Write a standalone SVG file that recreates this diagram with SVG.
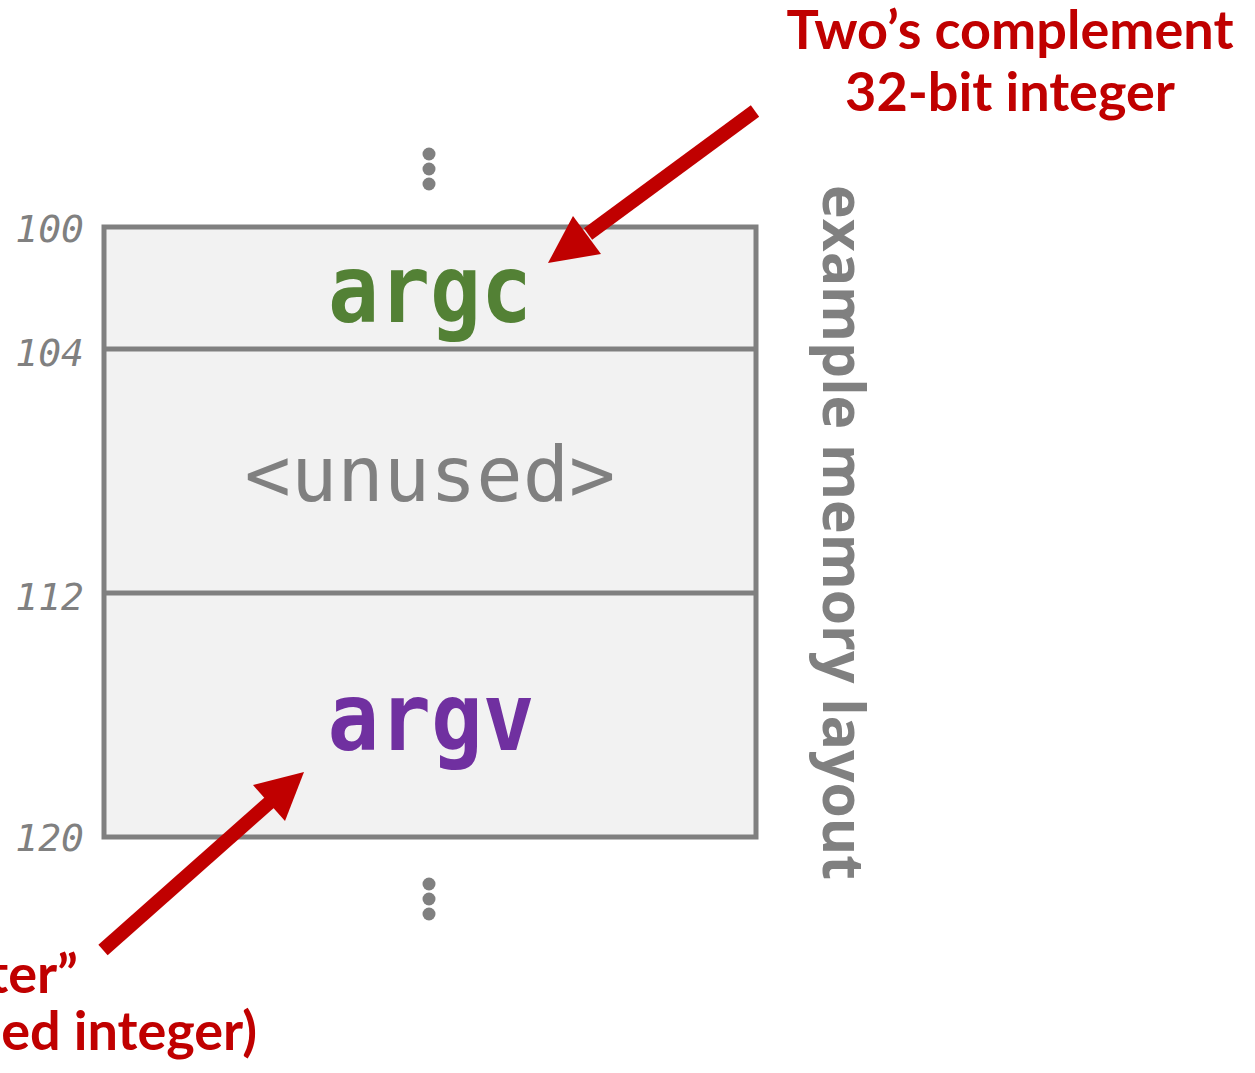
<svg xmlns="http://www.w3.org/2000/svg" width="1255" height="1073" viewBox="0 0 1255 1073">
<style>
.addr{font-family:"DejaVu Sans Mono","Liberation Mono",monospace;font-style:italic;font-size:38px;fill:#808080;text-anchor:end}
.var{font-family:"DejaVu Sans Mono","Liberation Mono",monospace;font-weight:bold;font-size:94px;text-anchor:middle}
.note{font-family:Lato,"Open Sans",sans-serif;font-weight:bold;font-size:54px;fill:#c00000}
.dot{fill:#808080}
.arrow{stroke:#c00000;stroke-width:14;fill:none}
.head{fill:#c00000}
</style>
<g id="memory">
<rect x="104" y="227" width="652" height="610" fill="#f2f2f2" stroke="#808080" stroke-width="5"/>
<line x1="104" y1="349" x2="756" y2="349" stroke="#808080" stroke-width="5"/>
<line x1="104" y1="593" x2="756" y2="593" stroke="#808080" stroke-width="5"/>
</g>
<g id="argc"><text class="var" x="430" y="322" fill="#538135" textLength="204" lengthAdjust="spacingAndGlyphs">argc</text></g>
<g id="unused"><text x="430" y="501" font-family="DejaVu Sans Mono,Liberation Mono,monospace" font-size="77" fill="#808080" text-anchor="middle">&lt;unused&gt;</text></g>
<g id="argv"><text class="var" x="431" y="750" fill="#7030a0" textLength="207" lengthAdjust="spacingAndGlyphs">argv</text></g>
<g id="addresses">
<text class="addr" x="84" y="242">100</text>
<text class="addr" x="84" y="366">104</text>
<text class="addr" x="84" y="610">112</text>
<text class="addr" x="84" y="851">120</text>
</g>
<g id="dots-top">
<circle class="dot" cx="429" cy="154" r="6.5"/>
<circle class="dot" cx="429" cy="169" r="6.5"/>
<circle class="dot" cx="429" cy="184" r="6.5"/>
</g>
<g id="dots-bottom">
<circle class="dot" cx="429" cy="884" r="6.5"/>
<circle class="dot" cx="429" cy="899" r="6.5"/>
<circle class="dot" cx="429" cy="914" r="6.5"/>
</g>
<g id="layout-label">
<text transform="translate(823,185) rotate(90)" font-family="Open Sans,Noto Sans,sans-serif" font-weight="bold" font-size="57" fill="#808080" textLength="695" lengthAdjust="spacingAndGlyphs">example memory layout</text>
</g>
<g id="note-top">
<text class="note" x="1010" y="49" text-anchor="middle">Two’s complement</text>
<text class="note" x="1010" y="111" text-anchor="middle">32-bit integer</text>
</g>
<g id="note-bottom">
<text class="note" x="78" y="993" text-anchor="end">ter”</text>
<text class="note" x="257" y="1050" text-anchor="end">ed integer)</text>
</g>
<g id="connectors">
<line class="arrow" x1="755" y1="111" x2="588" y2="234"/>
<polygon class="head" points="548,263 573,216 601,254"/>
<line class="arrow" x1="103" y1="950" x2="270" y2="802"/>
<polygon class="head" points="304,772 253,785 285,821"/>
</g>
</svg>
